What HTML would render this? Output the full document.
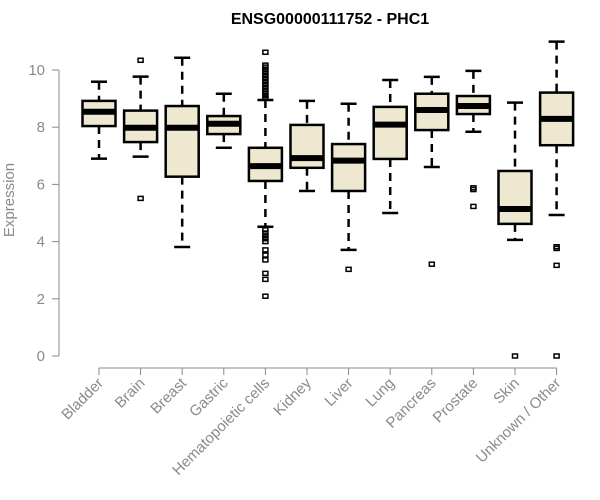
<!DOCTYPE html>
<html><head><meta charset="utf-8"><style>
body{margin:0;background:#fff}
svg{display:block;font-family:"Liberation Sans",Arial,sans-serif}
</style></head><body>
<svg id="chart" width="600" height="500" viewBox="0 0 600 500">
<text x="330" y="24" text-anchor="middle" font-weight="bold" font-size="16" fill="#000">ENSG00000111752 - PHC1</text>
<text transform="translate(14,200) rotate(-90)" text-anchor="middle" font-size="15" fill="#8a8a8a">Expression</text>
<g id="yaxis"></g>
<g id="xaxis"></g>
<g id="boxes"></g>
</svg>
<script>
const categories=["Bladder","Brain","Breast","Gastric","Hematopoietic cells","Kidney","Liver","Lung","Pancreas","Prostate","Skin","Unknown / Other"];
const whiskerLow=[6.90,6.97,3.81,7.28,4.52,5.77,3.71,5.00,6.61,7.84,4.06,4.93];
const q1=[8.04,7.48,6.27,7.76,6.12,6.58,5.77,6.89,7.90,8.46,4.62,7.37];
const medians=[8.54,7.98,7.98,8.12,6.64,6.92,6.83,8.09,8.60,8.74,5.14,8.29];
const q3=[8.92,8.58,8.74,8.39,7.28,8.08,7.41,8.71,9.17,9.09,6.47,9.21];
const whiskerHigh=[9.59,9.77,10.43,9.17,8.95,8.92,8.82,9.65,9.76,9.97,8.86,10.99];
const outliers=[[],[10.34,5.51],[],[],[10.62,10.17,10.1,10.0,9.9,9.8,9.7,9.6,9.5,9.4,9.3,9.2,9.1,9.01,4.41,4.3,4.2,4.1,4.0,3.71,3.53,3.36,2.89,2.68,2.09],[],[3.03],[],[3.21],[5.88,5.82,5.23],[0],[3.82,3.76,3.17,0]];
const yTicks=[0,2,4,6,8,10];
const NS="http://www.w3.org/2000/svg";
function y(v){return 356-v*28.6;}
function x(i){return 99+i*41.6;}
function mk(tag,attrs,parent){const e=document.createElementNS(NS,tag);for(const k in attrs)e.setAttribute(k,attrs[k]);parent.appendChild(e);return e;}
const ya=document.getElementById('yaxis'),xa=document.getElementById('xaxis'),bx=document.getElementById('boxes');
let l=mk('line',{x1:59,x2:59,y1:y(10),y2:y(0),stroke:'#888','stroke-width':1},ya);


yTicks.forEach(t=>{
 let tk=mk('line',{x1:52,x2:59,y1:y(t),y2:y(t),stroke:'#888'},ya);
 
 
 let tx=mk('text',{x:45,y:y(t)+5,'text-anchor':'end','font-size':15,fill:'#8a8a8a'},ya);
 tx.textContent=t;
 
 
});
let xl=mk('line',{x1:x(0),x2:x(categories.length-1),y1:368,y2:368,stroke:'#888'},xa);


categories.forEach((c,i)=>{
 const cx=x(i);
 let tk=mk('line',{x1:cx,x2:cx,y1:368,y2:375,stroke:'#888'},xa);
 
 
 let tx=mk('text',{transform:`translate(${cx+5},${384}) rotate(-45)`,'text-anchor':'end','font-size':15,fill:'#8a8a8a'},xa);
 tx.textContent=c;
 
 
 const g=mk('g',{},bx);
 
 
 mk('line',{x1:cx,x2:cx,y1:y(whiskerHigh[i]),y2:y(q3[i]),stroke:'#000','stroke-width':2.5,'stroke-dasharray':'8,6'},g);
 mk('line',{x1:cx,x2:cx,y1:y(q1[i]),y2:y(whiskerLow[i]),stroke:'#000','stroke-width':2.5,'stroke-dasharray':'8,6'},g);
 mk('line',{x1:cx-8,x2:cx+8,y1:y(whiskerHigh[i]),y2:y(whiskerHigh[i]),stroke:'#000','stroke-width':2.5},g);
 mk('line',{x1:cx-8,x2:cx+8,y1:y(whiskerLow[i]),y2:y(whiskerLow[i]),stroke:'#000','stroke-width':2.5},g);
 mk('rect',{x:cx-16.5,y:y(q3[i]),width:33,height:y(q1[i])-y(q3[i]),fill:'#ede8cf',stroke:'#000','stroke-width':2.5},g);
 mk('line',{x1:cx-16.5,x2:cx+16.5,y1:y(medians[i]),y2:y(medians[i]),stroke:'#000','stroke-width':6},g);
 outliers[i].forEach(o=>{
  let p=mk('rect',{x:cx-2.5,y:y(o)-2,width:5,height:4,fill:'none',stroke:'#000','stroke-width':1.5},g);
  
  
 });
});
</script>
</body></html>
